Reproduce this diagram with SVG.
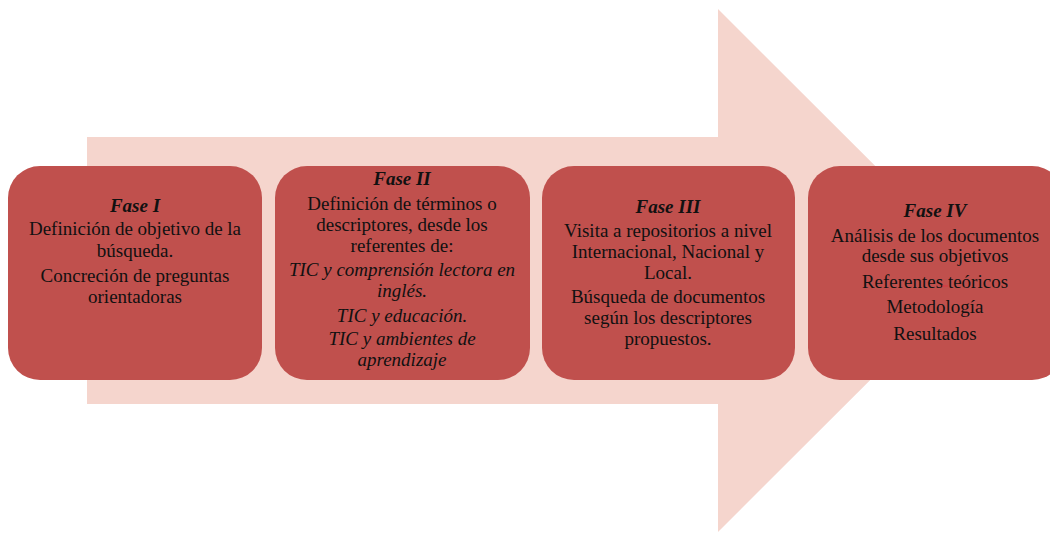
<svg xmlns="http://www.w3.org/2000/svg" width="1050" height="533" viewBox="0 0 1050 533">
<style>
.box{fill:#C0504D;}
.t{font-family:"Liberation Serif","Times New Roman",serif;font-size:19px;fill:#111;text-anchor:middle;}
.h{font-weight:bold;font-style:italic;}
.i{font-style:italic;}
</style>
<rect width="1050" height="533" fill="#FFFFFF"/>
<g id="arrow">
<polygon points="87,137 718,137 718,9 980,270.5 718,532 718,404 87,404" fill="#F5D5CD"/>
</g>
<g id="connectors"></g>
<g id="fase1">
<rect class="box" x="8" y="166" width="254" height="214" rx="32"/>
<text class="t h" x="135" y="212">Fase I</text>
<text class="t" x="135" y="235">Definición de objetivo de la</text>
<text class="t" x="135" y="257">búsqueda.</text>
<text class="t" x="135" y="282">Concreción de preguntas</text>
<text class="t" x="135" y="303">orientadoras</text>
</g>
<g id="fase2">
<rect class="box" x="275" y="166" width="255" height="214" rx="32"/>
<text class="t h" x="402" y="185">Fase II</text>
<text class="t" x="402" y="210">Definición de términos o</text>
<text class="t" x="402" y="231">descriptores, desde los</text>
<text class="t" x="402" y="252">referentes de:</text>
<text class="t i" x="402" y="276">TIC y comprensión lectora en</text>
<text class="t i" x="402" y="297">inglés.</text>
<text class="t i" x="402" y="322">TIC y educación.</text>
<text class="t i" x="402" y="345">TIC y ambientes de</text>
<text class="t i" x="402" y="366">aprendizaje</text>
</g>
<g id="fase3">
<rect class="box" x="542" y="166" width="253" height="214" rx="32"/>
<text class="t h" x="668" y="213">Fase III</text>
<text class="t" x="668" y="237">Visita a repositorios a nivel</text>
<text class="t" x="668" y="258">Internacional, Nacional y</text>
<text class="t" x="668" y="279">Local.</text>
<text class="t" x="668" y="303">Búsqueda de documentos</text>
<text class="t" x="668" y="324">según los descriptores</text>
<text class="t" x="668" y="345">propuestos.</text>
</g>
<g id="fase4">
<rect class="box" x="808" y="166" width="256" height="214" rx="32"/>
<text class="t h" x="935" y="217">Fase IV</text>
<text class="t" x="935" y="242">Análisis de los documentos</text>
<text class="t" x="935" y="262">desde sus objetivos</text>
<text class="t" x="935" y="288">Referentes teóricos</text>
<line x1="942" y1="286" x2="948" y2="286" stroke="#E03040" stroke-width="1"/>
<text class="t" x="935" y="313">Metodología</text>
<text class="t" x="935" y="340">Resultados</text>
</g>
</svg>
